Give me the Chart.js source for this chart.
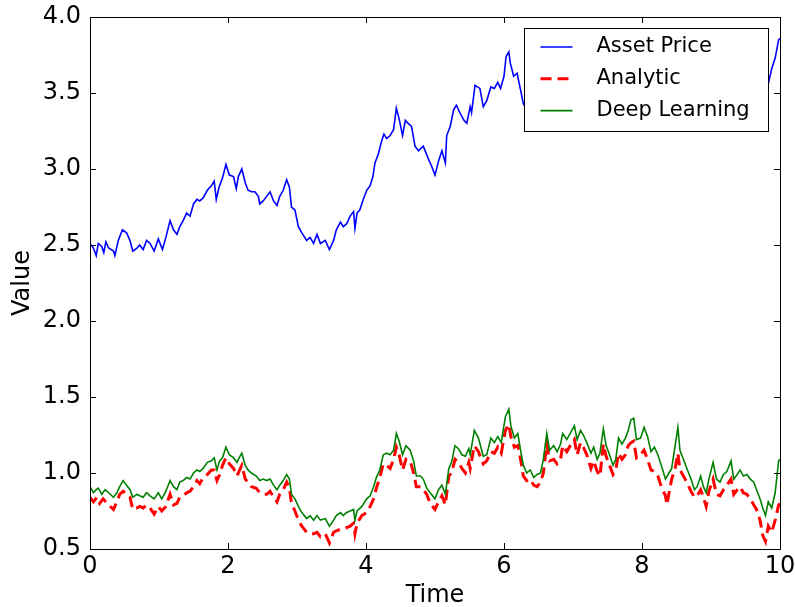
<!DOCTYPE html>
<html>
<head>
<meta charset="utf-8">
<script src="https://cdn.jsdelivr.net/npm/chart.js@4.4.1/dist/chart.umd.min.js"></script>
<style>
  html, body { margin: 0; padding: 0; background: #fff; }
  #chart { display: block; }
</style>
</head>
<body>
<canvas id="chart" width="795" height="607"></canvas>
<script>
// values
const assetTime = [0,0.05,0.09,0.12,0.17,0.2,0.23,0.27,0.34,0.36,0.41,0.47,0.53,0.58,0.62,0.68,0.72,0.77,0.82,0.87,0.93,0.99,1.05,1.10,1.16,1.21,1.26,1.30,1.35,1.40,1.45,1.50,1.55,1.59,1.64,1.70,1.76,1.80,1.83,1.87,1.92,1.97,2.02,2.08,2.12,2.15,2.20,2.25,2.29,2.34,2.39,2.44,2.46,2.51,2.56,2.61,2.66,2.71,2.75,2.80,2.85,2.89,2.92,2.97,3.02,3.07,3.14,3.19,3.24,3.29,3.34,3.41,3.47,3.53,3.57,3.63,3.67,3.72,3.77,3.82,3.84,3.87,3.91,3.96,4.01,4.06,4.10,4.13,4.18,4.23,4.26,4.30,4.35,4.40,4.44,4.48,4.53,4.57,4.61,4.66,4.71,4.76,
  4.83,4.91,4.95,5.00,5.05,5.10,5.15,5.17,5.22,5.27,5.31,5.36,5.42,5.46,5.51,5.53,5.58,5.65,5.70,5.75,5.81,5.86,5.91,5.95,6.00,6.03,6.07,6.09,6.14,6.19,6.24,6.28,
  6.33,6.38,6.43,6.48,6.53,6.57,6.62,6.66,6.72,6.77,6.82,6.85,6.91,6.96,7.02,7.06,7.11,7.15,7.20,7.26,7.30,7.35,7.39,7.44,7.48,7.53,7.58,7.62,7.66,7.71,7.76,7.80,7.84,7.88,7.92,7.98,8.03,8.08,8.13,8.18,8.23,8.28,8.34,8.39,8.43,8.48,8.52,8.55,8.60,8.65,8.71,8.76,8.80,8.85,8.89,8.93,8.97,9.03,9.08,9.13,9.18,9.23,9.29,9.33,9.38,9.42,9.47,9.52,9.57,9.62,9.66,9.71,9.75,9.79,
  9.83,9.88,9.93,9.98,10.0];
const assetPrice = [2.51,2.48,2.43,2.51,2.49,2.45,2.52,2.48,2.46,2.43,2.53,2.60,2.58,2.53,2.46,2.48,2.50,2.47,2.53,2.51,2.46,2.54,2.47,2.55,2.66,2.60,2.57,2.62,2.66,2.71,2.69,2.77,2.80,2.79,2.81,2.86,2.89,2.92,2.80,2.88,2.94,3.03,2.96,2.95,2.87,2.95,3.00,2.91,2.86,2.85,2.85,2.82,2.77,2.79,2.82,2.85,2.79,2.76,2.82,2.86,2.93,2.88,2.75,2.73,2.62,2.58,2.53,2.55,2.51,2.57,2.51,2.53,2.47,2.53,2.60,2.65,2.62,2.64,2.69,2.72,2.61,2.71,2.73,2.80,2.86,2.89,2.95,3.04,3.10,3.19,3.23,3.20,3.22,3.26,3.40,3.33,3.22,3.32,3.30,3.28,3.15,3.12,
  3.15,3.06,3.02,2.96,3.05,3.12,3.04,3.22,3.28,3.39,3.42,3.37,3.32,3.30,3.41,3.37,3.55,3.53,3.41,3.45,3.54,3.53,3.57,3.53,3.61,3.74,3.77,3.70,3.61,3.63,3.52,3.43,
  3.39,3.41,3.35,3.34,3.38,3.46,3.70,3.55,3.57,3.53,3.57,3.68,3.63,3.68,3.73,3.62,3.70,3.66,3.61,3.50,3.56,3.48,3.45,3.70,3.61,3.54,3.47,3.52,3.65,3.60,3.65,3.72,3.75,3.77,3.64,3.68,3.72,3.62,3.55,3.54,3.51,3.44,3.38,3.30,3.48,3.55,3.68,3.56,3.51,3.47,3.41,3.37,3.39,3.44,3.38,3.32,3.43,3.52,3.42,3.41,3.46,3.50,3.55,3.45,3.50,3.53,3.49,3.48,3.45,3.42,3.40,3.37,3.35,3.40,
  3.56,3.66,3.73,3.85,3.86];

const analyticTime = [0,0.05,0.10,0.14,0.19,0.27,0.34,0.39,0.43,0.48,0.53,0.58,0.62,0.68,0.72,0.77,0.82,0.87,0.93,0.99,1.04,1.10,1.16,1.21,1.26,1.30,1.35,1.40,1.45,1.50,1.55,1.59,1.64,1.70,1.76,1.80,1.84,1.88,1.92,1.97,2.02,2.08,2.13,2.16,2.20,2.25,2.29,2.34,2.41,2.46,2.51,2.56,2.61,2.66,2.71,2.75,2.80,2.85,2.89,2.92,2.97,3.02,3.07,3.14,3.19,3.24,3.29,3.34,3.41,3.47,3.53,3.57,3.63,3.67,3.72,3.77,3.82,3.84,3.87,3.94,4.01,4.06,4.11,4.15,4.20,4.25,4.30,4.35,4.40,4.44,4.48,4.53,4.58,4.64,4.69,4.73,
  4.79,4.83,4.88,4.93,5.00,5.05,5.10,5.15,5.20,5.24,5.29,5.34,5.39,5.44,5.49,5.51,5.57,5.63,5.70,5.75,5.81,5.86,5.91,5.96,6.02,6.07,6.10,6.15,6.20,6.24,6.28,6.33,6.38,6.43,6.48,6.53,6.57,6.62,6.66,6.72,6.77,6.82,6.85,6.91,6.96,7.02,7.06,7.11,7.15,7.20,7.26,7.30,7.35,7.39,7.44,7.48,7.53,7.58,7.62,7.66,7.71,7.76,7.80,7.84,7.88,7.92,7.98,8.03,8.08,8.13,8.18,8.23,8.28,8.34,8.36,8.43,8.48,8.52,8.55,8.60,8.65,8.71,8.76,8.80,8.85,8.89,8.93,8.97,9.03,9.08,9.13,9.18,9.23,9.29,9.33,9.38,9.42,9.47,9.52,9.57,9.62,9.66,9.71,9.75,9.79,9.83,9.88,9.93,9.98,10.0];
const analyticValue = [0.84,0.81,0.84,0.80,0.83,0.79,0.76,0.81,0.86,0.88,0.86,0.84,0.76,0.77,0.78,0.77,0.79,0.77,0.73,0.78,0.75,0.78,0.86,0.79,0.80,0.84,0.85,0.87,0.88,0.91,0.95,0.93,0.97,0.99,1.02,1.02,0.95,0.99,1.05,1.10,1.06,1.03,0.98,1.01,1.05,0.96,0.94,0.91,0.90,0.87,0.86,0.86,0.88,0.84,0.81,0.86,0.89,0.94,0.90,0.80,0.75,0.69,0.65,0.61,0.60,0.60,0.61,0.58,0.60,0.54,0.61,0.62,0.63,0.63,0.64,0.65,0.67,0.60,0.67,0.72,0.74,0.78,0.83,0.90,0.97,1.06,1.05,1.03,1.09,1.17,1.12,1.02,1.09,1.08,1.00,0.91,
  0.91,0.89,0.86,0.80,0.76,0.81,0.85,0.79,0.98,1.00,1.09,1.07,1.03,1.00,1.07,1.03,1.18,1.14,1.06,1.08,1.14,1.13,1.17,1.13,1.28,1.32,1.24,1.17,1.18,1.09,0.98,0.95,0.96,0.92,0.91,0.94,1.00,1.19,1.08,1.09,1.06,1.09,1.18,1.14,1.18,1.22,1.12,1.20,1.17,1.12,1.03,1.08,1.01,0.98,1.19,1.11,1.05,0.99,1.02,1.13,1.09,1.12,1.18,1.20,1.21,1.10,1.12,1.15,1.09,1.02,1.01,0.98,0.91,0.85,0.79,0.96,1.03,1.13,1.02,0.98,0.94,0.88,0.84,0.85,0.89,0.84,0.78,0.88,0.96,0.86,0.85,0.89,0.92,0.96,0.86,0.89,0.91,0.87,0.86,0.83,0.79,0.76,0.69,0.59,0.55,0.65,0.61,0.69,0.79,0.80];

const deepTime = [0,0.05,0.09,0.12,0.17,0.22,0.27,0.34,0.39,0.43,0.48,0.53,0.58,0.62,0.68,0.72,0.77,0.82,0.87,0.93,0.99,1.04,1.10,1.16,1.21,1.26,1.30,1.35,1.40,1.45,1.50,1.55,1.59,1.64,1.70,1.76,1.80,1.84,1.88,1.92,1.97,2.02,2.08,2.13,2.16,2.20,2.25,2.29,2.34,2.41,2.46,2.51,2.56,2.61,2.66,2.71,2.75,2.80,2.85,2.89,2.92,2.97,3.02,3.07,3.14,3.19,3.24,3.29,3.34,3.41,3.47,3.53,3.57,3.63,3.67,3.72,3.77,3.82,3.84,3.87,3.94,4.01,4.06,4.11,4.15,4.20,4.25,4.30,4.35,4.40,4.44,4.48,4.53,4.58,4.64,4.69,4.73,
  4.79,4.83,4.88,4.93,5.00,5.05,5.10,5.15,5.20,5.24,5.29,5.34,5.39,5.44,5.49,5.51,5.57,5.63,5.70,5.75,5.81,5.86,5.91,5.96,6.02,6.07,6.10,6.15,6.20,6.24,6.28,6.33,6.38,6.43,6.48,6.53,6.57,6.62,6.66,6.72,6.77,6.82,6.85,6.91,6.96,7.02,7.06,7.11,7.15,7.20,7.26,7.30,7.35,7.39,7.44,7.48,7.53,7.58,7.62,7.66,7.71,7.76,7.80,7.84,7.88,7.92,7.98,8.03,8.08,8.13,8.18,8.23,8.28,8.34,8.39,8.43,8.48,8.52,8.55,8.60,8.65,8.71,8.76,8.80,8.85,8.89,8.93,8.97,9.03,9.08,9.13,9.18,9.23,9.29,9.33,9.38,9.42,9.47,9.52,9.57,9.62,9.66,9.71,9.75,9.79,9.83,9.88,9.93,9.98,10.0];
const deepValue = [0.91,0.87,0.89,0.90,0.86,0.89,0.87,0.84,0.87,0.91,0.95,0.92,0.89,0.84,0.86,0.85,0.84,0.87,0.85,0.83,0.87,0.83,0.88,0.95,0.91,0.89,0.94,0.95,0.97,0.96,1.00,1.02,1.01,1.03,1.07,1.08,1.10,1.02,1.08,1.10,1.17,1.12,1.10,1.07,1.10,1.13,1.05,1.02,1.00,0.98,0.95,0.96,0.95,0.96,0.92,0.89,0.92,0.95,0.99,0.96,0.86,0.83,0.78,0.74,0.70,0.72,0.69,0.72,0.69,0.70,0.65,0.69,0.72,0.74,0.72,0.74,0.75,0.76,0.69,0.75,0.78,0.83,0.85,0.91,0.97,1.02,1.12,1.13,1.12,1.15,1.26,1.21,1.12,1.18,1.15,1.08,0.98,
  0.98,0.96,0.90,0.87,0.83,0.89,0.92,0.86,1.03,1.07,1.18,1.16,1.12,1.11,1.16,1.12,1.28,1.23,1.11,1.12,1.23,1.20,1.24,1.20,1.37,1.42,1.31,1.23,1.26,1.15,1.05,1.00,1.02,0.97,0.99,1.00,1.09,1.26,1.15,1.18,1.14,1.19,1.26,1.22,1.26,1.31,1.22,1.28,1.25,1.20,1.13,1.17,1.09,1.13,1.29,1.18,1.12,1.05,1.09,1.23,1.19,1.23,1.28,1.35,1.36,1.22,1.23,1.30,1.24,1.14,1.17,1.12,1.05,0.96,1.00,1.03,1.18,1.30,1.15,1.09,1.03,0.96,0.89,0.91,0.98,0.91,0.87,0.96,1.07,0.96,0.94,0.99,1.01,1.08,0.96,0.99,1.02,0.98,0.99,0.96,0.94,0.89,0.83,0.77,0.72,0.81,0.77,0.87,1.08,1.09];

const xTicks = [0, 2, 4, 6, 8, 10];
const yTicks = [0.5, 1.0, 1.5, 2.0, 2.5, 3.0, 3.5, 4.0];

const FONT = 'DejaVu Sans';

function toPoints(times, values) {
  return times.map((t, i) => ({ x: t, y: values[i] }));
}

// no extra room for tick labels, the layout padding does that
function noScalePadding(s) {
  s.paddingTop = 0;
  s.paddingBottom = 0;
  s.paddingLeft = 0;
  s.paddingRight = 0;
}

// matplotlib-style frame, inward ticks and legend box inside the plot
const framePlugin = {
  id: 'frame',
  afterDatasetsDraw(chart) {
    const ctx = chart.ctx;
    const a = chart.chartArea;
    const xs = chart.scales.x;
    const ys = chart.scales.y;
    ctx.save();
    ctx.strokeStyle = '#000';
    ctx.lineWidth = 1;
    ctx.beginPath();
    xTicks.forEach(v => {
      const px = Math.round(xs.getPixelForValue(v)) + 0.5;
      ctx.moveTo(px, a.bottom); ctx.lineTo(px, a.bottom - 6);
      ctx.moveTo(px, a.top); ctx.lineTo(px, a.top + 6);
    });
    yTicks.forEach(v => {
      const py = Math.round(ys.getPixelForValue(v)) + 0.5;
      ctx.moveTo(a.left, py); ctx.lineTo(a.left + 6, py);
      ctx.moveTo(a.right, py); ctx.lineTo(a.right - 6, py);
    });
    ctx.stroke();
    ctx.strokeRect(Math.round(a.left) + 0.5, Math.round(a.top) + 0.5,
      Math.round(a.right - a.left), Math.round(a.bottom - a.top));

    // legend
    const w = 244, h = 103;
    const bx = Math.round(a.right - 12 - w) + 0.5;
    const by = Math.round(a.top + 11) + 0.5;
    ctx.fillStyle = '#fff';
    ctx.fillRect(bx, by, w, h);
    ctx.strokeRect(bx, by, w, h);
    ctx.font = '21px "' + FONT + '"';
    ctx.textBaseline = 'middle';
    ctx.textAlign = 'left';
    chart.data.datasets.forEach((ds, i) => {
      const ry = by + 18.5 + i * 31.8;
      ctx.beginPath();
      ctx.strokeStyle = ds.borderColor;
      ctx.lineWidth = ds.borderWidth;
      ctx.setLineDash(ds.borderDash || []);
      ctx.moveTo(bx + 16, ry);
      ctx.lineTo(bx + 48, ry);
      ctx.stroke();
      ctx.setLineDash([]);
      ctx.fillStyle = '#000';
      ctx.fillText(ds.label, bx + 72, ry);
    });
    ctx.restore();
  }
};

new Chart(document.getElementById('chart'), {
  type: 'line',
  data: {
    datasets: [
      {
        label: 'Asset Price',
        data: toPoints(assetTime, assetPrice),
        borderColor: '#0000ff',
        borderWidth: 1.6,
        order: 2
      },
      {
        label: 'Analytic',
        data: toPoints(analyticTime, analyticValue),
        borderColor: '#ff0000',
        borderWidth: 3,
        borderDash: [11, 6],
        order: 1
      },
      {
        label: 'Deep Learning',
        data: toPoints(deepTime, deepValue),
        borderColor: '#008000',
        borderWidth: 1.6,
        order: 0
      }
    ]
  },
  options: {
    responsive: false,
    animation: false,
    devicePixelRatio: 1,
    layout: { padding: { top: 17, right: 15, left: 0, bottom: 0 } },
    elements: {
      point: { radius: 0 },
      line: { tension: 0, fill: false }
    },
    plugins: {
      legend: { display: false },
      tooltip: { enabled: false }
    },
    scales: {
      x: {
        type: 'linear',
        min: 0,
        max: 10,
        afterFit: s => { s.height = 58; noScalePadding(s); },
        afterBuildTicks: s => { s.ticks = xTicks.map(v => ({ value: v })); },
        grid: { display: false, drawTicks: false },
        border: { display: false },
        ticks: {
          color: '#000',
          font: { family: FONT, size: 24 },
          padding: 3,
          maxRotation: 0,
          callback: v => String(v)
        },
        title: {
          display: true,
          text: 'Time',
          color: '#000',
          font: { family: FONT, size: 24 },
          padding: { top: 0, bottom: -3 }
        }
      },
      y: {
        type: 'linear',
        min: 0.5,
        max: 4.0,
        afterFit: s => { s.width = 90; noScalePadding(s); },
        afterBuildTicks: s => { s.ticks = yTicks.map(v => ({ value: v })); },
        grid: { display: false, drawTicks: false },
        border: { display: false },
        ticks: {
          color: '#000',
          font: { family: FONT, size: 24 },
          padding: 9,
          callback: v => v.toFixed(1)
        },
        title: {
          display: true,
          text: 'Value',
          color: '#000',
          font: { family: FONT, size: 24 },
          padding: { top: 8, bottom: 0 }
        }
      }
    }
  },
  plugins: [framePlugin]
});
</script>
</body>
</html>
